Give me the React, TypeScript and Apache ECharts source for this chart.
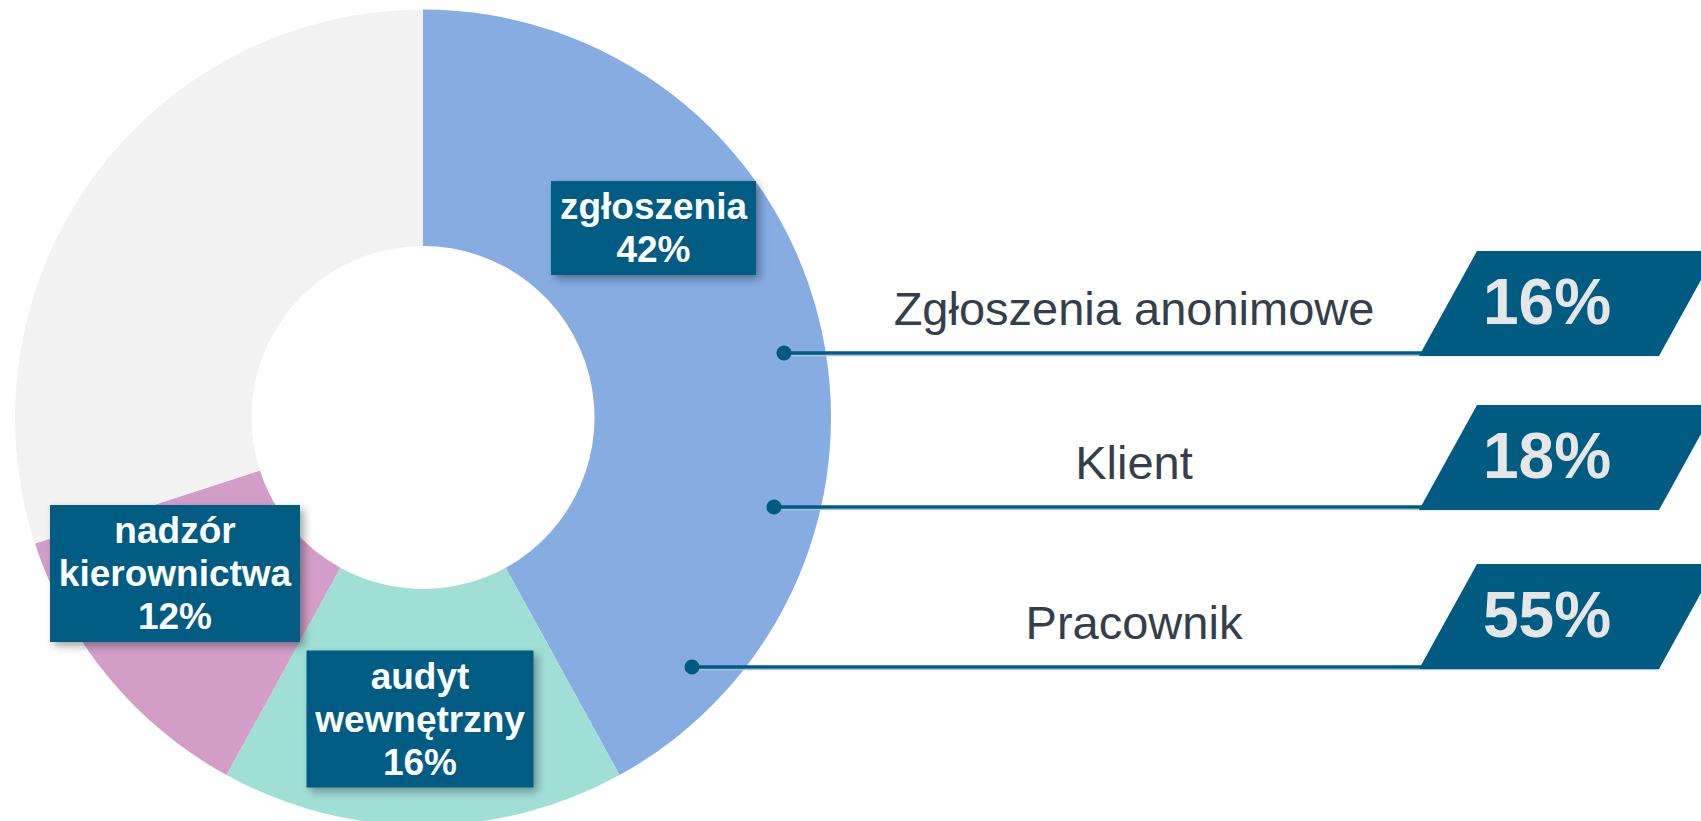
import React, { useEffect, useRef } from "react";
import * as echarts from "echarts";

// ---- data ----
const sliceNames = ["zgłoszenia", "audyt wewnętrzny", "nadzór kierownictwa", "pozostałe"];
const sliceValues = [42, 16, 12, 30];
const sliceLabelShown = [true, true, true, false];

const sourceNames = ["Zgłoszenia anonimowe", "Klient", "Pracownik"];
const sourceValues = [16, 18, 55];

// ---- styles / layout ----
const sliceColors = ["#86ACE2", "#A0DFD6", "#D29EC7", "#F2F2F2"];
const NAVY = "#005B83";
const FONT = "'Liberation Sans', Arial, Helvetica, sans-serif";
const W = 1701;
const H = 821;
const PIE_CENTER = [423, 417.5];
const PIE_RADIUS = [171.5, 408];
const labelBoxes = [
  { x: 653.5, y: 228, w: 205 },
  { x: 420, y: 719, w: 227 },
  { x: 175, y: 573.5, w: 250 },
  { x: 0, y: 0, w: 0 },
];
const rowLineY = [353, 507, 667];
const rowDotX = [784, 774, 692];
const rowBoxTop = [251, 405, 564];
const BOX_H = 105;
const BOX_LEFT = 1419;
const BOX_W = 240;
const SLANT = 58;
const TEXT_X = 1134;
const PCT_X = 1547;

export default function App() {
  const ref = useRef<HTMLDivElement>(null);

  useEffect(() => {
    if (!ref.current) return;
    const chart = echarts.init(ref.current, undefined, { renderer: "svg" });

    const graphics: any[] = [];
    sourceNames.forEach((name, i) => {
      const ly = rowLineY[i];
      const top = rowBoxTop[i];
      const bottom = top + BOX_H;
      graphics.push({
        type: "line",
        z: 10,
        shape: { x1: rowDotX[i], y1: ly + 2.6, x2: BOX_LEFT + BOX_W, y2: ly + 2.6 },
        style: { stroke: "#A9C5D8", lineWidth: 1.4 },
      });
      graphics.push({
        type: "line",
        z: 11,
        shape: { x1: rowDotX[i], y1: ly, x2: BOX_LEFT + 10, y2: ly },
        style: { stroke: NAVY, lineWidth: 3.4 },
      });
      graphics.push({
        type: "circle",
        z: 12,
        shape: { cx: rowDotX[i], cy: ly, r: 7.5 },
        style: { fill: NAVY },
      });
      graphics.push({
        type: "polygon",
        z: 12,
        shape: {
          points: [
            [BOX_LEFT, bottom],
            [BOX_LEFT + SLANT, top],
            [BOX_LEFT + BOX_W + SLANT, top],
            [BOX_LEFT + BOX_W, bottom],
          ],
        },
        style: { fill: NAVY },
      });
      graphics.push({
        type: "text",
        z: 13,
        x: TEXT_X,
        y: ly - 45,
        style: {
          text: name,
          fill: "#343F4B",
          font: `47px ${FONT}`,
          align: "center",
          verticalAlign: "middle",
        },
      });
      graphics.push({
        type: "text",
        z: 13,
        x: PCT_X,
        y: top + 51,
        style: {
          text: `${sourceValues[i]}%`,
          fill: "#E6E6E6",
          font: `bold 64px ${FONT}`,
          align: "center",
          verticalAlign: "middle",
        },
      });
    });

    chart.setOption({
      animation: false,
      backgroundColor: "#ffffff",
      series: [
        {
          type: "pie",
          center: PIE_CENTER,
          radius: PIE_RADIUS,
          startAngle: 90,
          clockwise: true,
          silent: true,
          avoidLabelOverlap: false,
          emphasis: { disabled: true },
          itemStyle: { borderWidth: 0 },
          labelLine: { show: false },
          label: {
            show: true,
            position: "inside",
            formatter: (p: any) => `${String(p.name).split(" ").join("\n")}\n${p.value}%`,
            color: "#ffffff",
            fontFamily: FONT,
            fontWeight: "bold",
            fontSize: 37,
            lineHeight: 43,
            backgroundColor: NAVY,
            padding: [4, 0],
            align: "center",
            verticalAlign: "middle",
            overflow: "none",
            shadowBlur: 8,
            shadowOffsetX: 4,
            shadowOffsetY: 4,
            shadowColor: "rgba(0,0,0,0.35)",
          },
          labelLayout: (params: any) => {
            const b = labelBoxes[params.dataIndex];
            return { x: b.x, y: b.y, align: "center", verticalAlign: "middle", hideOverlap: false };
          },
          data: sliceNames.map((n, i) => ({
            name: n,
            value: sliceValues[i],
            itemStyle: { color: sliceColors[i] },
            label: sliceLabelShown[i] ? { show: true, width: labelBoxes[i].w } : { show: false },
          })),
        },
      ],
      graphic: graphics,
    });

    return () => chart.dispose();
  }, []);

  return (
    <div
      ref={ref}
      style={{ position: "fixed", left: 0, top: 0, width: W, height: H, background: "#fff" }}
    />
  );
}
